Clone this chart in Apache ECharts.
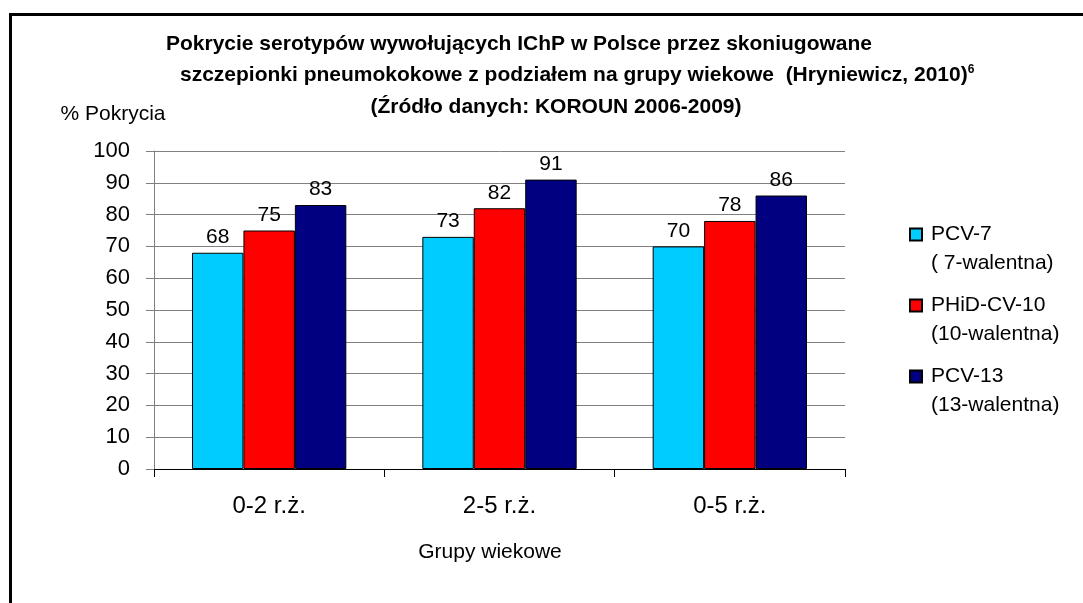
<!DOCTYPE html>
<html lang="pl">
  <head>
    <meta charset="UTF-8" />
    <title>Pokrycie serotypów</title>
    <script src="https://cdn.jsdelivr.net/npm/echarts@6/dist/echarts.min.js"></script>
    <style>
      html, body { margin: 0; padding: 0; background: #fff; }
      #chart { width: 1083px; height: 603px; }
    </style>
  </head>
  <body>
    <div id="chart"></div>
    <script>
      var categories = ['0-2 r.ż.', '2-5 r.ż.', '0-5 r.ż.'];
      var seriesNames = ['PCV-7', 'PHiD-CV-10', 'PCV-13'];
      var seriesSubNames = ['( 7-walentna)', '(10-walentna)', '(13-walentna)'];
      var seriesColors = ['#00CCFF', '#FF0000', '#000080'];
      var pcv7 = [68, 73, 70];
      var phid10 = [75, 82, 78];
      var pcv13 = [83, 91, 86];
      var seriesValues = [pcv7, phid10, pcv13];
      var yTicks = [0, 100, 10]; // min, max, interval

      var font = "'Liberation Sans', Arial, sans-serif";
      var chart = echarts.init(document.getElementById('chart'));

      var series = [];
      for (var i = 0; i < seriesNames.length; i += 1) {
        series.push({
          type: 'bar',
          name: seriesNames[i],
          data: seriesValues[i],
          barGap: 0,
          barCategoryGap: '33%',
          itemStyle: { color: seriesColors[i], borderColor: '#000', borderWidth: 1 },
          label: {
            show: true,
            position: 'top',
            distance: 5,
            color: '#000',
            fontSize: 21,
            fontFamily: font
          }
        });
      }

      chart.setOption({
        backgroundColor: '#fff',
        animation: false,
        grid: { left: 154, top: 151, right: 238, bottom: 134 },
        graphic: [
          {
            type: 'rect',
            shape: { x: 10.5, y: 14.5, width: 1200, height: 700 },
            style: { fill: 'none', stroke: '#000', lineWidth: 3 },
            silent: true
          },
          {
            type: 'text', x: 519, y: 44,
            style: { text: 'Pokrycie serotypów wywołujących IChP w Polsce przez skoniugowane', align: 'center', verticalAlign: 'middle', font: 'bold 21px ' + font, fill: '#000' }
          },
          {
            type: 'text', x: 180, y: 75,
            style: {
              text: '{a|szczepionki pneumokokowe z podziałem na grupy wiekowe  (Hryniewicz, 2010)}{s|6}',
              align: 'left', verticalAlign: 'middle',
              rich: {
                a: { font: 'bold 21px ' + font, fill: '#000' },
                s: { font: 'bold 12px ' + font, fill: '#000', verticalAlign: 'top', padding: [0, 0, 10, 0] }
              }
            }
          },
          {
            type: 'text', x: 556, y: 107,
            style: { text: '(Źródło danych: KOROUN 2006-2009)', align: 'center', verticalAlign: 'middle', font: 'bold 21px ' + font, fill: '#000' }
          },
          {
            type: 'text', x: 113, y: 114,
            style: { text: '% Pokrycia', align: 'center', verticalAlign: 'middle', font: '21px ' + font, fill: '#000' }
          },
          {
            type: 'text', x: 490, y: 552,
            style: { text: 'Grupy wiekowe', align: 'center', verticalAlign: 'middle', font: '21px ' + font, fill: '#000' }
          }
        ],
        legend: {
          orient: 'vertical',
          left: 904,
          top: 186,
          itemWidth: 12,
          itemHeight: 12,
          itemGap: -16,
          icon: 'rect',
          formatter: function (name) {
            return '\n' + name + '\n' + seriesSubNames[seriesNames.indexOf(name)];
          },
          textStyle: { fontSize: 21, lineHeight: 29, fontFamily: font, color: '#000', padding: [0, 0, 0, 4] }
        },
        xAxis: {
          type: 'category',
          data: categories,
          axisLine: { lineStyle: { color: '#000', width: 1 } },
          axisTick: { show: true, length: 8, lineStyle: { color: '#000' } },
          axisLabel: { color: '#000', fontSize: 24, fontFamily: font, margin: 25 }
        },
        yAxis: {
          type: 'value',
          min: yTicks[0],
          max: yTicks[1],
          interval: yTicks[2],
          axisLine: { show: true, lineStyle: { color: '#808080' } },
          axisTick: { show: true, length: 8, lineStyle: { color: '#808080' } },
          splitLine: { lineStyle: { color: '#808080', width: 1 } },
          axisLabel: { color: '#000', fontSize: 22, fontFamily: font, margin: 24 }
        },
        series: series
      });
    </script>
  </body>
</html>
